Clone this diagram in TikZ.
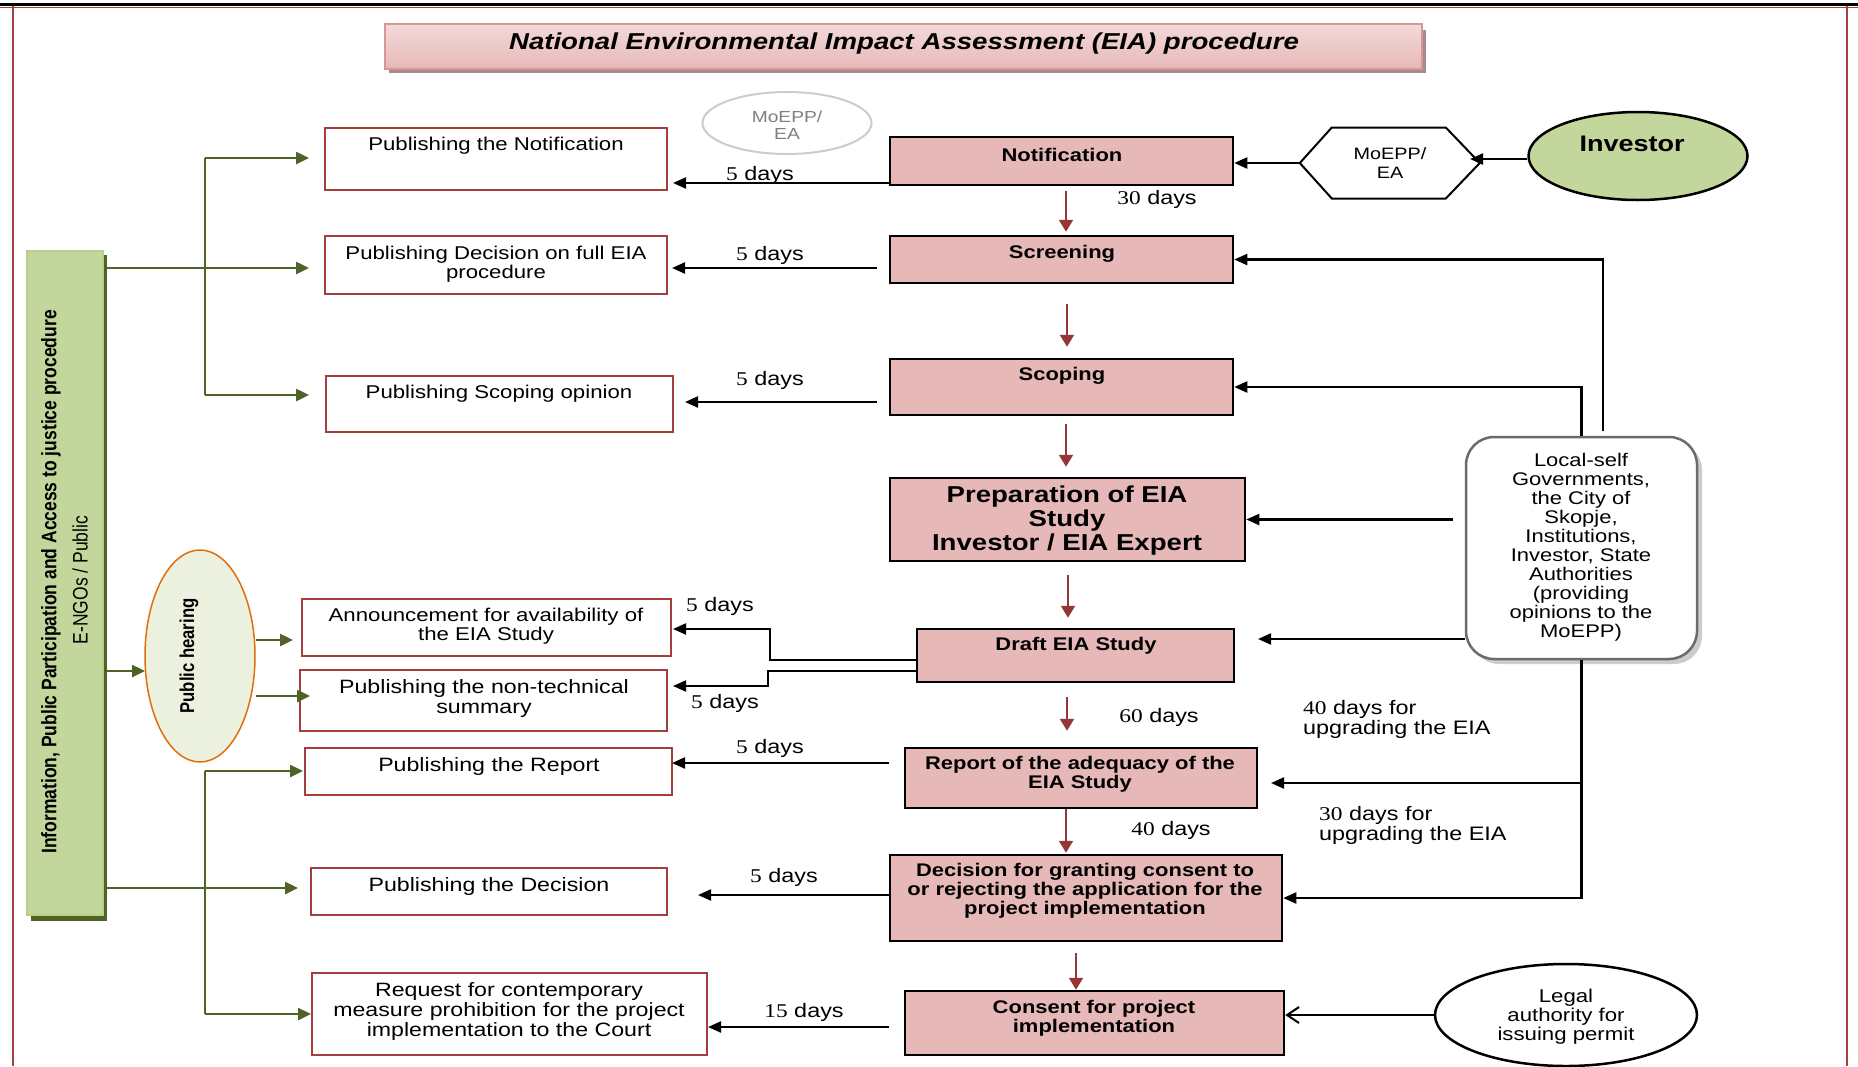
\documentclass[tikz,border=0pt]{standalone}
\usepackage{fontspec}
\setmainfont{Liberation Sans}[FakeStretch=1.2]
\newfontfamily\tnr{Liberation Serif}[FakeStretch=1.2]
\newfontfamily\plainsans{Liberation Sans}
\usetikzlibrary{shapes.geometric,arrows.meta}
\definecolor{pinkfill}{HTML}{E6B9B8}
\definecolor{boxred}{HTML}{A33E3C}
\definecolor{arrred}{HTML}{953735}
\definecolor{oliveg}{HTML}{4F6228}
\definecolor{lgreen}{HTML}{C3D69B}
\definecolor{mgreen}{HTML}{9BBB59}
\definecolor{phfill}{HTML}{EBF1DE}
\definecolor{phdraw}{HTML}{E46C0A}
\definecolor{framered}{HTML}{A5403F}
\definecolor{titleline}{HTML}{D99694}
\definecolor{titleshadow}{HTML}{A58B8B}
\definecolor{titletop}{HTML}{F3D9D9}
\definecolor{titlemid}{HTML}{FDF3F3}
\definecolor{locdraw}{HTML}{6B6B6B}
\definecolor{greytext}{HTML}{7F7F7F}
\newcommand\fsz[2]{\fontsize{#1}{#2}\selectfont}
\newcommand\daylab[1]{{\tnr #1} days}
\begin{document}
\begin{tikzpicture}[x=1pt,y=-1pt,
  pinkbox/.style={draw=black, line width=2.5pt, fill=pinkfill, inner sep=0pt},
  pubbox/.style={draw=boxred, line width=2pt, fill=white, inner sep=0pt},
  txt/.style={align=center, inner sep=0pt, font=\fsz{18.5}{19}},
  btxt/.style={align=center, inner sep=0pt, font=\fsz{18.3}{19}\bfseries},
  lab/.style={inner sep=0pt, font=\fsz{19.5}{20}},
  barrow/.style={draw=black, line width=2.2pt, -{Triangle[length=13pt,width=11pt]}},
  rarrow/.style={draw=arrred, line width=2.2pt, -{Triangle[length=12pt,width=14pt]}},
  garrow/.style={draw=oliveg, line width=2.5pt, -{Triangle[length=13pt,width=12pt]}},
  gline/.style={draw=oliveg, line width=2.5pt},
  oarrow/.style={draw=black, line width=2pt, -{Straight Barb[length=12pt,width=16pt]}}
]
\useasboundingbox (0,0) rectangle (1858,1066);
% frame
\draw[framered, line width=1.5pt] (13,6) -- (13,1066);
\draw[framered, line width=1.5pt] (1847,6) -- (1847,1066);
\draw[framered, line width=1pt] (0,7) -- (1858,7);
\draw[black, line width=2.5pt] (0,4.5) -- (1858,4.5);

% title
\fill[titleshadow] (389,30) rectangle (1426,73);
\node[draw=titleline, line width=2pt, top color=titletop, middle color=titlemid, bottom color=pinkfill,
      minimum width=1037pt, minimum height=45pt, inner sep=0pt] (title) at (903.5,46.5) {};
\node[inner sep=0pt, font=\fsz{23}{23}\bfseries\itshape] (titleT) at (904,44)
  {National Environmental Impact Assessment (EIA) procedure};

% left green bar
\fill[oliveg] (31,255) rectangle (107,921);
\node[draw=mgreen!70, line width=1.5pt, top color=lgreen, middle color=mgreen, bottom color=lgreen,
      minimum width=76pt, minimum height=664pt, inner sep=0pt] (bar) at (65,583) {};
\node[rotate=90, inner sep=0pt] (barT1) at (51,582)
  {\scalebox{1}[1.2]{\plainsans\bfseries\fsz{17.5}{18}Information, Public Participation and Access to justice procedure}};
\node[rotate=90, inner sep=0pt] (barT2) at (80,580)
  {\scalebox{1}[1.2]{\plainsans\fsz{17.5}{18}E-NGOs / Public}};

% public hearing
\node[ellipse, draw=phdraw, line width=1.5pt, fill=phfill, minimum width=110pt, minimum height=212pt, inner sep=0pt] (ph) at (200,656) {};
\node[rotate=90, inner sep=0pt] (phT) at (189,656)
  {\scalebox{1}[1.2]{\plainsans\bfseries\fsz{16.7}{17}Public hearing}};

% white publishing boxes
\node[pubbox, minimum width=342pt, minimum height=62pt] (pn) at (496,159) {};
\node[txt] (pnT) at (496,146) {Publishing the Notification};
\node[pubbox, minimum width=342pt, minimum height=58pt] (pd) at (496,265) {};
\node[txt] (pdT) at (496,264) {Publishing Decision on full EIA\\procedure};
\node[pubbox, minimum width=347pt, minimum height=56pt] (ps) at (499.5,404) {};
\node[txt] (psT) at (499,394) {Publishing Scoping opinion};
\node[pubbox, minimum width=369pt, minimum height=57pt] (ann) at (486.5,627.5) {};
\node[txt] (annT) at (486,626) {Announcement for availability of\\the EIA Study};
\node[pubbox, minimum width=367pt, minimum height=61pt] (nt) at (483.5,700.5) {};
\node[txt, font=\fsz{19.3}{20}] (ntT) at (484,698) {Publishing the non-technical\\summary};
\node[pubbox, minimum width=367pt, minimum height=47pt] (pr) at (488.5,771.5) {};
\node[txt, font=\fsz{19.3}{20}] (prT) at (489,766) {Publishing the Report};
\node[pubbox, minimum width=356pt, minimum height=47pt] (pdec) at (489,891.5) {};
\node[txt, font=\fsz{19.3}{20}] (pdecT) at (489,886) {Publishing the Decision};
\node[pubbox, minimum width=395pt, minimum height=82pt] (req) at (509.5,1014) {};
\node[txt, font=\fsz{19.3}{20}] (reqT) at (509,1012) {Request for contemporary\\measure prohibition for the project\\implementation to the Court};

% pink process boxes
\node[pinkbox, minimum width=343pt, minimum height=48pt] (n) at (1061.5,161) {};
\node[btxt] (nT) at (1062,155) {Notification};
\node[pinkbox, minimum width=343pt, minimum height=47pt] (sc) at (1061.5,259.5) {};
\node[btxt] (scT) at (1062,254) {Screening};
\node[pinkbox, minimum width=343pt, minimum height=56pt] (sp) at (1061.5,387) {};
\node[btxt] (spT) at (1062,376) {Scoping};
\node[pinkbox, minimum width=355pt, minimum height=83pt] (prep) at (1067.5,519.5) {};
\node[btxt, font=\fsz{23}{24}\bfseries] (prepT) at (1067,521) {Preparation of EIA\\Study\\Investor / EIA Expert};
\node[pinkbox, minimum width=317pt, minimum height=53pt] (draft) at (1075.5,655.5) {};
\node[btxt] (draftT) at (1076,646) {Draft EIA Study};
\node[pinkbox, minimum width=352pt, minimum height=60pt] (rep) at (1081,778) {};
\node[btxt] (repT) at (1080,774) {Report of the adequacy of the\\EIA Study};
\node[pinkbox, minimum width=392pt, minimum height=86pt] (dec) at (1086,898) {};
\node[btxt] (decT) at (1085,891) {Decision for granting consent to\\or rejecting the application for the\\project implementation};
\node[pinkbox, minimum width=379pt, minimum height=64pt] (cons) at (1094.5,1023) {};
\node[btxt] (consT) at (1094,1018) {Consent for project\\implementation};

% top right actors
\node[ellipse, draw=gray!40, line width=2pt, minimum width=169pt, minimum height=62pt, inner sep=0pt] (moe) at (787,123) {};
\node[align=center, inner sep=0pt, text=greytext, font=\fsz{16}{17}] (moeT) at (787,125) {MoEPP/\\EA};
\node[minimum width=180pt, minimum height=71pt, inner sep=0pt] (hex) at (1390,163) {};
\draw[line width=2pt] (hex.west) -- ++(32,-35.5) -- ++(114,0) -- ++(34,35.5) -- ++(-34,35.5) -- ++(-114,0) -- cycle;
\node[align=center, inner sep=0pt, font=\fsz{16.5}{19}] (hexT) at (1390,163) {MoEPP/\\EA};
\node[ellipse, draw=black, line width=2.5pt, fill=lgreen, minimum width=219pt, minimum height=88pt, inner sep=0pt] (inv) at (1638,156) {};
\node[inner sep=0pt, font=\fsz{22.5}{23}\bfseries] (invT) at (1632,144) {Investor};

% local self-governments box
\fill[gray!40, rounded corners=28pt] (1471,442) rectangle (1702,664);
\node[draw=locdraw, line width=2.5pt, fill=white, rounded corners=28pt, minimum width=231pt, minimum height=222pt, inner sep=0pt] (loc) at (1581.5,548) {};
\node[txt, font=\fsz{18.3}{19}] (locT) at (1581,547) {Local-self\\Governments,\\the City of\\Skopje,\\Institutions,\\Investor, State\\Authorities\\(providing\\opinions to the\\MoEPP)};

% legal authority
\node[ellipse, draw=black, line width=2.5pt, fill=white, minimum width=262pt, minimum height=102pt, inner sep=0pt] (legal) at (1566,1015) {};
\node[txt, font=\fsz{18.5}{19}] (legalT) at (1566,1017) {Legal\\authority for\\issuing permit};

% ---- red process arrows
\draw[rarrow, shorten <=5pt, shorten >=3pt] (n.south -| 1066,0) -- (sc.north -| 1066,0);
\draw[rarrow, shorten <=20pt, shorten >=11pt] (sc.south -| 1067,0) -- (sp.north -| 1067,0);
\draw[rarrow, shorten <=8pt, shorten >=10pt] (sp.south -| 1066,0) -- (prep.north -| 1066,0);
\draw[rarrow, shorten <=13pt, shorten >=10pt] (prep.south -| 1068,0) -- (draft.north -| 1068,0);
\draw[rarrow, shorten <=14pt, shorten >=16pt] (draft.south -| 1067,0) -- (rep.north -| 1067,0);
\draw[rarrow, shorten >=1pt] (rep.south -| 1066,0) -- (dec.north -| 1066,0);
\draw[rarrow, shorten <=11pt] (dec.south -| 1076,0) -- (cons.north -| 1076,0);

% ---- black publishing arrows
\coordinate (a1) at (673,183);
\draw[barrow] (n.west |- a1) -- (a1);
\coordinate (a2) at (672,268);
\draw[barrow, shorten <=12pt] (sc.west |- a2) -- (a2);
\coordinate (a3) at (685,402);
\draw[barrow, shorten <=12pt] (sp.west |- a3) -- (a3);
\coordinate (a4) at (673,629);
\draw[barrow, line width=2pt] (draft.west |- 0,660) -- (770,660) |- (a4);
\coordinate (a5) at (673,686);
\draw[barrow, line width=2pt] (draft.west |- 0,671) -- (768,671) |- (a5);
\coordinate (a6) at (672,763);
\draw[barrow, shorten <=15pt] (rep.west |- a6) -- (a6);
\coordinate (a7) at (698,895);
\draw[barrow] (dec.west |- a7) -- (a7);
\coordinate (a8) at (708,1027);
\draw[barrow, shorten <=15pt] (cons.west |- a8) -- (a8);

% ---- day labels
\node[lab] (l1) at (760,175) {\daylab{5}};
\node[lab] (l2) at (770,255) {\daylab{5}};
\node[lab] (l3) at (770,380) {\daylab{5}};
\node[lab] (l4) at (720,606) {\daylab{5}};
\node[lab] (l5) at (725,703) {\daylab{5}};
\node[lab] (l6) at (770,748) {\daylab{5}};
\node[lab] (l7) at (784,877) {\daylab{5}};
\node[lab] (l8) at (804,1012) {\daylab{15}};
\node[lab] (l30) at (1157,199) {\daylab{30}};
\node[lab] (l60) at (1159,717) {\daylab{60}};
\node[lab] (l40) at (1171,830) {\daylab{40}};
\node[lab, anchor=west, align=left] (u40) at (1303,719) {{\tnr 40} days for\\upgrading the EIA};
\node[lab, anchor=west, align=left] (u30) at (1319,825) {{\tnr 30} days for\\upgrading the EIA};

% ---- right side arrows
\coordinate (it) at (1470,159);
\draw[barrow] (inv.west |- it) -- (it);
\draw[barrow] (hex.west) -- (n.east |- hex.west);
\draw[barrow, shorten <=5pt] (loc.north -| 1603,0) |- (sc.east);
\draw[barrow] (loc.north) |- (sp.east);
\draw[barrow, shorten <=12pt] (loc.west |- prep.east) -- (prep.east);
\coordinate (dt) at (1258,639);
\draw[barrow] (loc.west |- dt) -- (dt);
\coordinate (rt) at (1271,783);
\draw[barrow] (loc.south |- rt) -- (rt);
\draw[barrow] (loc.south) |- (dec.east);
\draw[oarrow] (legal.west) -- (cons.east |- legal.west);

% ---- green information arrows
\coordinate (gt1) at (309,158);
\coordinate (gt2) at (309,268);
\coordinate (gt3) at (309,395);
\draw[gline] (gt1 -| 205,0) -- (gt3 -| 205,0);
\draw[garrow] (gt1 -| 205,0) -- (gt1);
\draw[garrow] (bar.east |- gt2) -- (gt2);
\draw[garrow] (gt3 -| 205,0) -- (gt3);
\coordinate (gt4) at (145,671);
\draw[garrow] (bar.east |- gt4) -- (gt4);
\coordinate (gt5) at (293,640);
\draw[garrow] (ph.east |- gt5) -- (gt5);
\coordinate (gt6) at (310,696);
\draw[garrow] (ph.east |- gt6) -- (gt6);
\coordinate (gt7) at (303,771);
\coordinate (gt8) at (298,888);
\coordinate (gt9) at (311,1014);
\draw[gline] (gt7 -| 205,0) -- (gt9 -| 205,0);
\draw[garrow] (gt7 -| 205,0) -- (gt7);
\draw[garrow] (bar.east |- gt8) -- (gt8);
\draw[garrow] (gt9 -| 205,0) -- (gt9);
\end{tikzpicture}
\end{document}
